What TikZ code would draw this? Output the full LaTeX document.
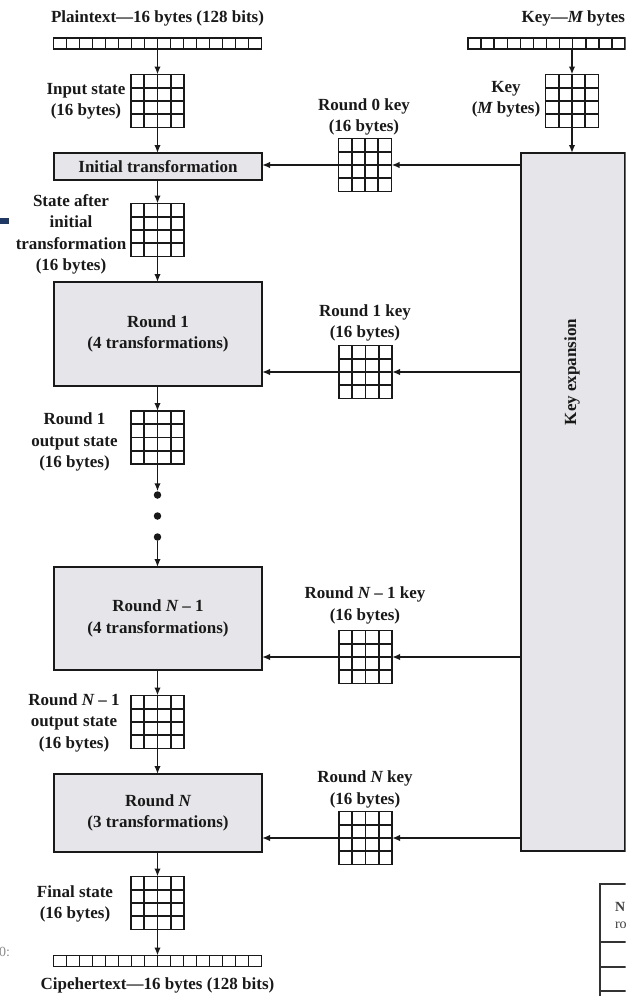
\documentclass[tikz,border=0pt]{standalone}
\usepackage{fontspec}
\setmainfont{Liberation Serif}
\usetikzlibrary{arrows.meta,calc}
\definecolor{boxgray}{RGB}{230,230,234}
\definecolor{navybar}{RGB}{31,56,100}
\definecolor{ink}{RGB}{25,25,25}
\newcommand{\lblfont}{\fontsize{17pt}{21.5pt}\selectfont\bfseries}
\begin{document}
\begin{tikzpicture}[x=1pt,y=-1pt,
  every node/.style={inner sep=0pt, outer sep=0pt, text=ink},
  lbl/.style={align=center, font=\lblfont},
  box/.style={draw=ink, line width=2pt, fill=boxgray, align=center, font=\lblfont},
  cellgrid/.style={draw=ink, line width=1.8pt, minimum width=53pt, minimum height=53pt, fill=white,
    path picture={
      \foreach \i in {1,2,3}{
        \draw[ink, line width=1.8pt] ($(path picture bounding box.south west)!\i/4!(path picture bounding box.south east)$) -- ($(path picture bounding box.north west)!\i/4!(path picture bounding box.north east)$);
        \draw[ink, line width=1.8pt] ($(path picture bounding box.south west)!\i/4!(path picture bounding box.north west)$) -- ($(path picture bounding box.south east)!\i/4!(path picture bounding box.north east)$);
      }}},
  byterow/.style={draw=ink, line width=1.5pt, minimum height=11pt,
    path picture={
      \foreach \i in {1,...,#1}{
        \draw[ink, line width=1.5pt] ($(path picture bounding box.south west)!\i/#1!(path picture bounding box.south east)$) -- ($(path picture bounding box.north west)!\i/#1!(path picture bounding box.north east)$);
      }}},
  arr/.style={draw=ink, line width=1.7pt, -{Latex[length=8pt,width=6.5pt]}},
  dot/.style={circle, fill=ink, minimum size=7.5pt}
]
\useasboundingbox (0,0) rectangle (638,996);
\clip (0,0) rectangle (625.5,996);

% left column
\node[lbl] (ptT) at (157.5,18) {Plaintext—16 bytes (128 bits)};
\node[byterow=16, minimum width=208pt] (pt) at (157.5,43.5) {};
\node[cellgrid] (in) at (157.5,101) {};
\node[lbl] (inL) at (86,101.5) {Input state\\(16 bytes)};
\node[box, minimum width=208pt, minimum height=27pt] (init) at (158,166.5) {Initial transformation};
\node[cellgrid] (sa) at (157.5,230) {};
\node[lbl] (saL) at (71,234.5) {State after\\initial\\transformation\\(16 bytes)};
\node[box, minimum width=208pt, minimum height=104pt] (r1) at (158,334) {Round 1\\(4 transformations)};
\node[cellgrid] (r1o) at (157.5,437.5) {};
\node[lbl] (r1oL) at (74.5,442) {Round 1\\output state\\(16 bytes)};
\node[dot] (d1) at (157.5,495) {};
\node[dot] (d2) at (157.5,516) {};
\node[dot] (d3) at (157.5,537) {};
\node[box, minimum width=208pt, minimum height=103pt] (rn1) at (158,618.5) {Round {\itshape N} – 1\\(4 transformations)};
\node[cellgrid] (rn1o) at (157.5,722) {};
\node[lbl] (rn1oL) at (74,722.5) {Round {\itshape N} – 1\\output state\\(16 bytes)};
\node[box, minimum width=208pt, minimum height=78pt] (rN) at (158,813) {Round {\itshape N}\\(3 transformations)};
\node[cellgrid] (fin) at (157.5,903) {};
\node[lbl] (finL) at (75,904) {Final state\\(16 bytes)};
\node[byterow=16, minimum width=208pt] (ct) at (157.5,961) {};
\node[lbl] (ctT) at (157.5,985) {Cipehertext—16 bytes (128 bits)};

% key side
\node[lbl, anchor=east] (keyT) at (625,18) {Key—{\itshape M} bytes};
\node[byterow=12, minimum width=157pt] (kr) at (546.5,43.5) {};
\node[cellgrid] (kg) at (572,101) {};
\node[lbl] (kgL) at (506,99.5) {Key\\({\itshape M} bytes)};
\node[box, minimum width=104pt, minimum height=698pt] (kx) at (573,502) {};
\node[lbl, rotate=90] (kxL) at (572,372) {Key expansion};

\node[cellgrid] (k0) at (365,165) {};
\node[lbl] (k0L) at (364,117) {Round 0 key\\(16 bytes)};
\node[cellgrid] (k1) at (365.5,372) {};
\node[lbl] (k1L) at (365,323) {Round 1 key\\(16 bytes)};
\node[cellgrid] (kn1) at (365.5,657) {};
\node[lbl] (kn1L) at (365,605.5) {Round {\itshape N} – 1 key\\(16 bytes)};
\node[cellgrid] (kN) at (365.5,838) {};
\node[lbl] (kNL) at (365,789.5) {Round {\itshape N} key\\(16 bytes)};

% vertical connectors
\draw[arr] (pt.south) -- (in.north);
\draw[arr] (in.south) -- (in.south |- init.north);
\draw[arr] (init.south -| sa.north) -- (sa.north);
\draw[arr] (sa.south) -- (sa.south |- r1.north);
\draw[arr] (r1.south -| r1o.north) -- (r1o.north);
\draw[arr] (r1o.south) -- (d1.north);
\draw[arr] (d3.south) -- (d3.south |- rn1.north);
\draw[arr] (rn1.south -| rn1o.north) -- (rn1o.north);
\draw[arr] (rn1o.south) -- (rn1o.south |- rN.north);
\draw[arr] (rN.south -| fin.north) -- (fin.north);
\draw[arr] (fin.south) -- (ct.north);
\draw[arr] (kr.south -| kg.north) -- (kg.north);
\draw[arr] (kg.south) -- (kg.south |- kx.north);

% horizontal connectors
\draw[arr] (k0 -| kx.west) -- (k0.east);
\draw[arr] (k0.west) -- (k0 -| init.east);
\draw[arr] (k1 -| kx.west) -- (k1.east);
\draw[arr] (k1.west) -- (k1 -| r1.east);
\draw[arr] (kn1 -| kx.west) -- (kn1.east);
\draw[arr] (kn1.west) -- (kn1 -| rn1.east);
\draw[arr] (kN -| kx.west) -- (kN.east);
\draw[arr] (kN.west) -- (kN -| rN.east);

% cropped fragments
\fill[navybar] (0,218) rectangle (9,224);
\node[anchor=east, text=black!45, font=\fontsize{14pt}{14pt}\selectfont] (frag) at (10,952) {0:};
\draw[line width=1.4pt, black!80] (630,884) -- (600,884) -- (600,1000);
\foreach \yy in {942,967,991} \draw[line width=1.4pt, black!80] (600,\yy) -- (630,\yy);
\node[anchor=west, text=black!75, font=\fontsize{14pt}{14pt}\selectfont\bfseries] (tN) at (615,907) {N};
\node[anchor=west, text=black!75, font=\fontsize{14pt}{14pt}\selectfont] (tro) at (615,925) {ro};
\end{tikzpicture}
\end{document}
